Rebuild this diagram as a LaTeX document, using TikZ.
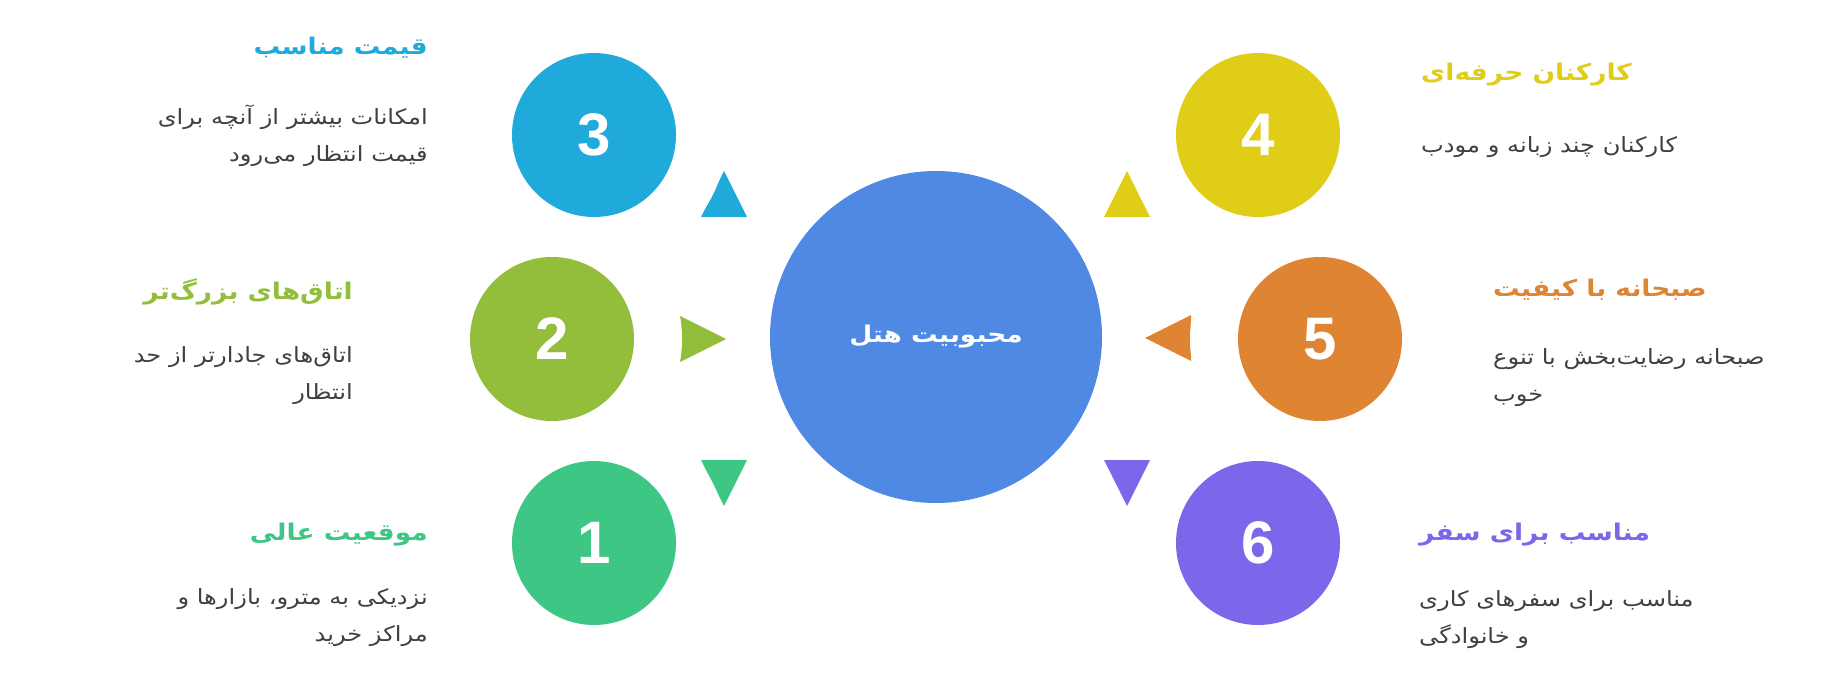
\documentclass[tikz,border=0pt]{standalone}
\usepackage{fontspec}
\setmainfont{Liberation Sans}
\newfontfamily\farsi[Script=Arabic, FakeStretch=1.15]{DejaVu Sans}
\TeXXeTstate=1
\newcommand{\fa}[1]{\beginR #1\endR}
\definecolor{hubblue}{HTML}{4F89E4}
\definecolor{oneg}{HTML}{3EC685}
\definecolor{twog}{HTML}{93BE3B}
\definecolor{threeb}{HTML}{1FAADB}
\definecolor{foury}{HTML}{DFCD17}
\definecolor{fiveo}{HTML}{DE8432}
\definecolor{sixp}{HTML}{7D66E9}
\definecolor{bodygray}{HTML}{404040}

\begin{document}
\begin{tikzpicture}[x=1pt, y=-1pt, every node/.style={inner sep=0pt},
    hub/.style={circle, fill=hubblue, minimum size=332pt, text=white, font=\farsi\bfseries\fontsize{23}{27}\selectfont},
    num/.style={circle, minimum size=164pt, text=white, font=\bfseries\fontsize{60}{60}\selectfont},
    title/.style={font=\farsi\bfseries\fontsize{23}{27}\selectfont},
    body/.style={text=bodygray, font=\farsi\fontsize{21}{37}\selectfont}]
    \useasboundingbox (0,0) rectangle (1848,687);
    \foreach \x/\y/\a/\c in {703/339/0/twog, 1168/338/180/fiveo, 724/194/90/threeb, 1127/194/90/foury, 724/483/-90/oneg, 1127/483/-90/sixp}
        \fill[\c, shift={(\x,\y)}, rotate=\a] (23,0) -- (-23,-23) -- (-23,23) -- cycle;
    \foreach \x/\y/\r in {594/543/133, 552/339/130, 594/135/133, 1258/135/133, 1320/339/130, 1258/543/133}
        \fill[white] (\x,\y) circle (\r);
    \foreach \n/\x/\y/\c in {1/594/543/oneg, 2/552/339/twog, 3/594/135/threeb, 4/1258/135/foury, 5/1320/339/fiveo, 6/1258/543/sixp}
        \node[num, fill=\c] (N\n) at (\x,\y) {\n};
    \node[hub] (N0) at (936,337) {\fa{محبوبیت هتل}};

    \node[title, text=threeb, anchor=east] (T3) at (428,48) {\fa{قیمت مناسب}};
    \node[body, align=right, anchor=north east] (B3) at (428,105) {\fa{امکانات بیشتر از آنچه برای}\\\fa{قیمت انتظار می‌رود}};
    \node[title, text=twog, anchor=east] (T2) at (353,292) {\fa{اتاق‌های بزرگ‌تر}};
    \node[body, align=right, anchor=north east] (B2) at (353,346) {\fa{اتاق‌های جادارتر از حد}\\\fa{انتظار}};
    \node[title, text=oneg, anchor=east] (T1) at (428,535) {\fa{موقعیت عالی}};
    \node[body, align=right, anchor=north east] (B1) at (428,588) {\fa{نزدیکی به مترو، بازارها و}\\\fa{مراکز خرید}};

    \node[title, text=foury, anchor=west] (T4) at (1421,75) {\fa{کارکنان حرفه‌ای}};
    \node[body, anchor=west] (B4) at (1421,147) {\fa{کارکنان چند زبانه و مودب}};
    \node[title, text=fiveo, anchor=west] (T5) at (1493,290) {\fa{صبحانه با کیفیت}};
    \node[body, align=left, anchor=north west] (B5) at (1493,348) {\fa{صبحانه رضایت‌بخش با تنوع}\\\fa{خوب}};
    \node[title, text=sixp, anchor=west] (T6) at (1419,535) {\fa{مناسب برای سفر}};
    \node[body, align=left, anchor=north west] (B6) at (1419,590) {\fa{مناسب برای سفرهای کاری}\\\fa{و خانوادگی}};
\end{tikzpicture}
\end{document}
